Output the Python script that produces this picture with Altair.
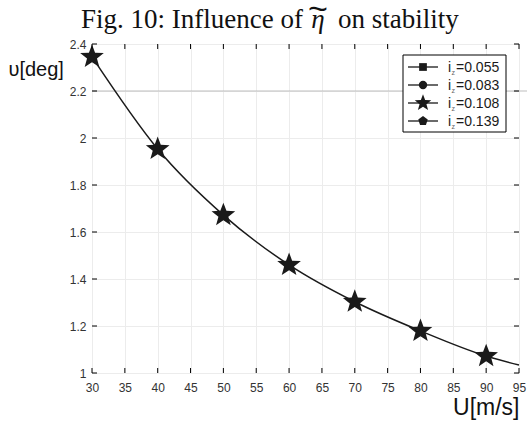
import math
import altair as alt
import pandas as pd

# ---- data ----
U = [30, 40, 50, 60, 70, 80, 90, 95]
upsilon = [2.345, 1.953, 1.672, 1.460, 1.303, 1.179, 1.072, 1.034]
series_iz = ["0.055", "0.083", "0.108", "0.139"]
x_ticks = [30, 35, 40, 45, 50, 55, 60, 65, 70, 75, 80, 85, 90, 95]
y_ticks = [1.0, 1.2, 1.4, 1.6, 1.8, 2.0, 2.2, 2.4]

W, H = 427, 329


def poly_path(n, r_in=None):
    pts = []
    steps = 2 * n if r_in else n
    for k in range(steps):
        r = 1.0 if (r_in is None or k % 2 == 0) else r_in
        a = -math.pi / 2 + k * (2 * math.pi / steps)
        pts.append((r * math.cos(a), r * math.sin(a)))
    return "M" + " L".join(f"{x:.3f},{y:.3f}" for x, y in pts) + " Z"


STAR = poly_path(5, 0.42)
PENT = poly_path(5)

df = pd.DataFrame({"U": U, "v": upsilon})
xs = alt.Scale(domain=[30, 95], nice=False, zero=False)
ys = alt.Scale(domain=[1, 2.4], nice=False, zero=False)

xaxis = alt.Axis(values=x_ticks, ticks=False, domain=False, labelPadding=9,
                 labelOverlap=False, labelFlush=False, tickCount=14,
                 labelFontSize=12, labelColor="#333", labelFont="Liberation Sans",
                 gridColor="#ececec", title="U[m/s]", titleFontSize=23,
                 titleFont="Liberation Sans", titleFontWeight="normal",
                 titleAlign="right", titleAnchor="end", titleX=W, titleY=41,
                 titleBaseline="alphabetic", titleColor="#111")
yaxis = alt.Axis(values=y_ticks, ticks=False, domain=False, labelPadding=6,
                 labelOverlap=False, labelFlush=False,
                 labelFontSize=12, labelColor="#333", labelFont="Liberation Sans",
                 format="~g", gridColor="#ececec", title="υ[deg]", titleAngle=0,
                 titleFontSize=20, titleFont="Liberation Sans", titleFontWeight="normal",
                 titleAlign="left", titleX=-84, titleY=31, titleBaseline="alphabetic",
                 titleColor="#111")

base = alt.Chart(df)
line = base.mark_line(color="#1a1a1a", strokeWidth=1.5, interpolate="monotone").encode(
    x=alt.X("U:Q", scale=xs, axis=xaxis),
    y=alt.Y("v:Q", scale=ys, axis=yaxis),
)
stars = base.transform_filter("datum.U <= 90").mark_point(
    shape=STAR, filled=True, color="#1a1a1a", size=620, opacity=1
).encode(x=alt.X("U:Q", scale=xs, axis=xaxis), y=alt.Y("v:Q", scale=ys, axis=yaxis))

hl = alt.Chart(pd.DataFrame({"v": [2.2]})).mark_rule(color="#bdbdbd", strokeWidth=1).encode(
    y=alt.Y("v:Q", scale=ys, axis=yaxis), x=alt.value(0), x2=alt.value(W + 8)
)

# inward ticks
xt = alt.Chart(pd.DataFrame({"U": x_ticks}))
yt = alt.Chart(pd.DataFrame({"v": y_ticks}))
tick_style = dict(color="black", strokeWidth=1)
ticks = [
    xt.mark_rule(**tick_style).encode(x=alt.X("U:Q", scale=xs, axis=xaxis), y=alt.value(H), y2=alt.value(H - 5)),
    xt.mark_rule(**tick_style).encode(x=alt.X("U:Q", scale=xs, axis=xaxis), y=alt.value(0), y2=alt.value(5)),
    yt.mark_rule(**tick_style).encode(y=alt.Y("v:Q", scale=ys, axis=yaxis), x=alt.value(0), x2=alt.value(5)),
    yt.mark_rule(**tick_style).encode(y=alt.Y("v:Q", scale=ys, axis=yaxis), x=alt.value(W), x2=alt.value(W - 5)),
]

# legend
leg_df = pd.DataFrame({
    "idx": [0, 1, 2, 3],
    "label": ["=" + s for s in series_iz],
    "shape": ["square", "circle", STAR, PENT],
    "size": [60, 70, 300, 100],
})
leg = alt.Chart(leg_df).transform_calculate(py="23 + 18 * datum.idx")
box = alt.Chart(pd.DataFrame({"a": [0]})).mark_rect(fill="white", stroke="black", strokeWidth=1).encode(
    x=alt.value(311), x2=alt.value(414), y=alt.value(11), y2=alt.value(88)
)
leg_line = leg.mark_rule(color="#1a1a1a", strokeWidth=1.3).encode(
    x=alt.value(316), x2=alt.value(346), y=alt.Y("py:Q", scale=None)
)
leg_pt = leg.mark_point(filled=True, color="#1a1a1a", opacity=1).encode(
    x=alt.value(331), y=alt.Y("py:Q", scale=None),
    shape=alt.Shape("shape:N", scale=None), size=alt.Size("size:Q", scale=None)
)
txt = dict(font="Liberation Sans", color="#1a1a1a", baseline="alphabetic", align="left")
leg_i = leg.mark_text(text="i", fontSize=14, dy=5, **txt).encode(
    x=alt.value(356), y=alt.Y("py:Q", scale=None))
leg_z = leg.mark_text(text="z", fontSize=7, dy=8, color="#666",
                      font="Liberation Sans", baseline="alphabetic", align="left").encode(
    x=alt.value(359.5), y=alt.Y("py:Q", scale=None))
leg_t = leg.mark_text(fontSize=14, dy=5, **txt).encode(
    x=alt.value(364), y=alt.Y("py:Q", scale=None), text="label:N")

# title (pieces so the wide tilde can sit over eta)
serif = dict(font="Liberation Serif", color="#111", baseline="alphabetic")
one = pd.DataFrame({"a": [0]})
t_left = alt.Chart(one).mark_text(
    text="Fig. 10: Influence of", fontSize=27, align="right", **serif
).encode(x=alt.value(211), y=alt.value(-16))
t_eta = alt.Chart(one).mark_text(
    text="η", fontSize=27, align="center", fontStyle="italic", **serif
).encode(x=alt.value(226), y=alt.value(-16))
t_tilde = alt.Chart(one).mark_text(
    text="~", fontSize=34, align="center", font="Liberation Sans", color="#111",
    baseline="alphabetic"
).encode(x=alt.value(226), y=alt.value(-24))
t_right = alt.Chart(one).mark_text(
    text="on stability", fontSize=27, align="left", **serif
).encode(x=alt.value(246), y=alt.value(-16))

chart = alt.layer(hl, line, stars, *ticks, box, leg_line, leg_pt, leg_i, leg_z, leg_t,
                  t_left, t_eta, t_tilde, t_right).properties(
    width=W, height=H,
    autosize=alt.AutoSizeParams(type="none"),
    padding={"left": 92, "top": 44, "right": 10, "bottom": 48},
).configure_view(stroke="black", strokeWidth=1.2).configure(background="white")

chart.save("out.html", embed_options={"renderer": "svg", "actions": False})
